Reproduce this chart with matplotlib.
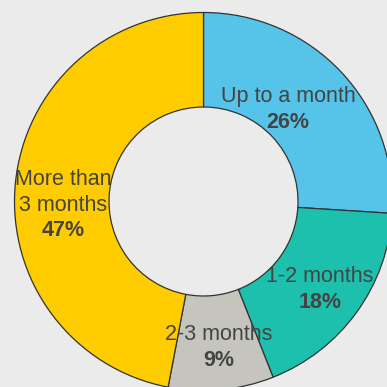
import numpy as np
import matplotlib
matplotlib.use("Agg")
import matplotlib.pyplot as plt

categories = ["Up to a month", "1-2 months", "2-3 months", "More than\n3 months"]
shares = [26, 18, 9, 47]
colors = ["#56c3e9", "#1dbfad", "#c5c5be", "#ffcc00"]

# where the percentage baseline sits: radial distance (fraction of outer
# radius) and a nudge (deg) away from the wedge's mid-angle
label_radius = [0.594, 0.835, 0.874, 0.766]
label_nudge = [-2.1, -6.4, 0.0, 19.2]

bg = "#ebebeb"
text_color = "#444444"

fig = plt.figure(figsize=(3.87, 3.87), dpi=100, facecolor=bg)
ax = fig.add_axes([0, 0, 1, 1])
ax.set_facecolor(bg)

R = 189.0
cx, cy = 203.5, 201.5
W = H = 387.0

wedges, _ = ax.pie(
    shares, colors=colors, startangle=90, counterclock=False, radius=1.0,
    wedgeprops=dict(width=0.5, edgecolor="#333333", linewidth=0.9),
)

ax.set_xlim(-cx / R, (W - cx) / R)
ax.set_ylim(-(H - cy) / R, cy / R)
ax.set_aspect("equal")
ax.axis("off")

font = ["Liberation Sans", "DejaVu Sans"]
line_step = 25.5 * 72 / 100  # baseline-to-baseline, in points
fs = 15.5
for w, name, val, r, nd in zip(wedges, categories, shares, label_radius, label_nudge):
    mid = np.deg2rad((w.theta1 + w.theta2) / 2 + nd)
    x, y = r * np.cos(mid), r * np.sin(mid)
    lines = name.split("\n")
    n = len(lines)
    for k, line in enumerate(lines):
        ax.annotate(line, xy=(x, y), xytext=(0, (n - k) * line_step),
                    textcoords="offset points", ha="center", va="baseline",
                    fontsize=fs, color=text_color, family=font)
    ax.annotate(f"{val}%", xy=(x, y), xytext=(0, 0),
                textcoords="offset points", ha="center", va="baseline",
                fontsize=fs, fontweight="bold", color=text_color, family=font)

fig.savefig("out.png", dpi=100, facecolor=bg)
